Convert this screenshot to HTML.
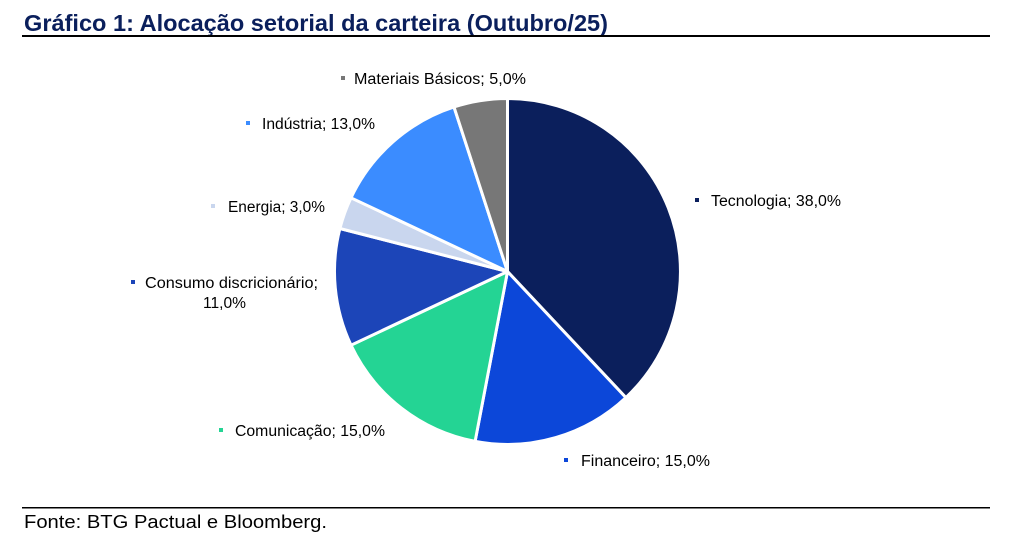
<!DOCTYPE html>
<html><head><meta charset="utf-8"><style>
body{margin:0;background:#fff;width:1024px;height:539px;overflow:hidden;font-family:"Liberation Sans",Arial,sans-serif}
</style></head><body>
<svg width="1024" height="539" xmlns="http://www.w3.org/2000/svg" font-family="Liberation Sans, Arial, sans-serif">
<text x="24" y="31" font-size="23" font-weight="bold" fill="#0a1f5c" textLength="584" lengthAdjust="spacingAndGlyphs">Gráfico 1: Alocação setorial da carteira  (Outubro/25)</text>
<rect x="22" y="35" width="968" height="2" fill="#000"/>
<g stroke="#fff" stroke-width="3" stroke-linejoin="round">
<path d="M507.5,271.5 L507.5,98.5 A173,173 0 0 1 625.9,397.6 Z" fill="#0b1f5c"/>
<path d="M507.5,271.5 L625.9,397.6 A173,173 0 0 1 475.1,441.4 Z" fill="#0c47d9"/>
<path d="M507.5,271.5 L475.1,441.4 A173,173 0 0 1 351.0,345.2 Z" fill="#24d494"/>
<path d="M507.5,271.5 L351.0,345.2 A173,173 0 0 1 339.9,228.5 Z" fill="#1c45b8"/>
<path d="M507.5,271.5 L339.9,228.5 A173,173 0 0 1 351.0,197.8 Z" fill="#c9d6ee"/>
<path d="M507.5,271.5 L351.0,197.8 A173,173 0 0 1 454.0,107.0 Z" fill="#3b8cff"/>
<path d="M507.5,271.5 L454.0,107.0 A173,173 0 0 1 507.5,98.5 Z" fill="#777777"/>
</g>
<g font-size="15.5" fill="#000">
<rect x="341" y="76" width="4" height="4" fill="#777"/><text x="354" y="84" textLength="172" lengthAdjust="spacingAndGlyphs">Materiais Básicos; 5,0%</text>
<rect x="246" y="121" width="4" height="4" fill="#3b8cff"/><text x="262" y="129" textLength="113" lengthAdjust="spacingAndGlyphs">Indústria; 13,0%</text>
<rect x="211" y="204" width="4" height="4" fill="#c9d6ee"/><text x="228" y="212" textLength="97" lengthAdjust="spacingAndGlyphs">Energia; 3,0%</text>
<rect x="131" y="280" width="4" height="4" fill="#1c45b8"/><text x="145" y="288" textLength="173" lengthAdjust="spacingAndGlyphs">Consumo discricionário;</text>
<text x="203" y="308" textLength="43" lengthAdjust="spacingAndGlyphs">11,0%</text>
<rect x="219" y="428" width="4" height="4" fill="#24d494"/><text x="235" y="436" textLength="150" lengthAdjust="spacingAndGlyphs">Comunicação; 15,0%</text>
<rect x="564" y="458" width="4" height="4" fill="#0c47d9"/><text x="581" y="466" textLength="129" lengthAdjust="spacingAndGlyphs">Financeiro; 15,0%</text>
<rect x="695" y="198" width="4" height="4" fill="#0b1f5c"/><text x="711" y="206" textLength="130" lengthAdjust="spacingAndGlyphs">Tecnologia; 38,0%</text>
</g>
<rect x="22" y="507" width="968" height="1.5" fill="#000"/>
<text x="24" y="528" font-size="18" fill="#000" textLength="303" lengthAdjust="spacingAndGlyphs">Fonte: BTG Pactual e Bloomberg.</text>
</svg>
</body></html>
